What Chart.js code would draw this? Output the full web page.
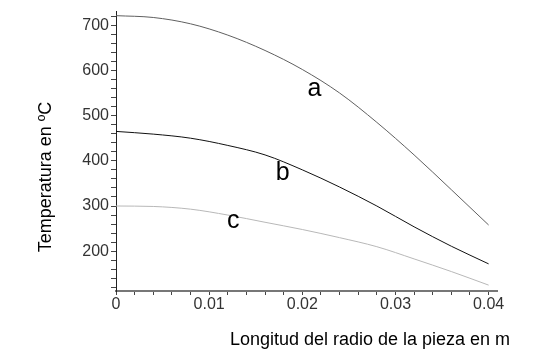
<!DOCTYPE html>
<html lang="es">
<head>
    <meta charset="UTF-8">
    <title>Temperatura</title>
    <script src="https://cdn.jsdelivr.net/npm/chart.js"></script>
    <style>
        html, body { margin: 0; padding: 0; background: #fff; }
        #wrap { width: 534px; height: 352px; }
    </style>
</head>
<body>
    <div id="wrap"><canvas id="tempChart"></canvas></div>
    <script>
        // radio (m) y temperaturas de cada curva
        const radius = [0, 0.004, 0.008, 0.012, 0.016, 0.020, 0.024, 0.028, 0.032, 0.036, 0.040];
        const tempA = [721, 717, 703, 678, 644, 602, 550, 485, 413, 336, 258];
        const tempB = [465, 459, 450, 434, 413, 380, 342, 300, 254, 211, 172];
        const tempC = [300, 299, 293, 280, 264, 248, 230, 210, 183, 155, 125];
        const curveNames = ['a', 'b', 'c'];
        // where each curve name sits, in data units
        const nameX = [0.0213, 0.0179, 0.0126];
        const nameY = [558, 372, 267];
        const yTickLabels = [200, 300, 400, 500, 600, 700];
        const xTickLabels = [0, 0.01, 0.02, 0.03, 0.04];

        const toPoints = ys => radius.map((x, i) => ({ x: x, y: ys[i] }));
        const tickFont = { family: '"Liberation Sans Narrow", "Arial Narrow", Arial, sans-serif', size: 16 };

        const textPlugin = {
            id: 'texts',
            afterDraw(chart) {
                const ctx = chart.ctx;
                const xs = chart.scales.x, ys = chart.scales.y;
                ctx.save();
                ctx.fillStyle = '#000';
                ctx.textAlign = 'center';
                ctx.textBaseline = 'middle';
                ctx.font = '25px "Liberation Sans", Arial, sans-serif';
                curveNames.forEach((n, i) => {
                    ctx.fillText(n, xs.getPixelForValue(nameX[i]), ys.getPixelForValue(nameY[i]));
                });
                ctx.font = '18px "Liberation Sans", Arial, sans-serif';
                ctx.fillText('Longitud del radio de la pieza en m', 370, 340);
                ctx.translate(46, 177);
                ctx.rotate(-Math.PI / 2);
                ctx.fillText('Temperatura en ºC', 0, 0);
                ctx.restore();
            }
        };

        new Chart(document.getElementById('tempChart'), {
            type: 'line',
            data: {
                datasets: [
                    { data: toPoints(tempA), borderColor: '#606060', borderWidth: 1 },
                    { data: toPoints(tempB), borderColor: '#111', borderWidth: 1 },
                    { data: toPoints(tempC), borderColor: '#b8b8b8', borderWidth: 1 }
                ]
            },
            options: {
                responsive: true,
                maintainAspectRatio: false,
                animation: false,
                layout: { padding: { top: 8, right: 37, bottom: 0, left: 0 } },
                elements: {
                    point: { radius: 0 },
                    line: { cubicInterpolationMode: 'monotone' }
                },
                plugins: {
                    legend: { display: false },
                    tooltip: { enabled: false }
                },
                scales: {
                    x: {
                        type: 'linear',
                        min: 0,
                        max: 0.0409,
                        afterFit(scale) { scale.height = 61; },
                        // a tick every 0.002, labels on every fifth one
                        afterBuildTicks(scale) {
                            const t = [];
                            for (let k = 0; k <= 20; k++) t.push({ value: k * 2 / 1000 });
                            scale.ticks = t;
                        },
                        border: { color: '#777', width: 2 },
                        grid: { drawOnChartArea: false, drawTicks: true, tickLength: 4, color: '#444' },
                        ticks: {
                            autoSkip: false,
                            maxRotation: 0,
                            padding: 0,
                            color: '#333',
                            font: tickFont,
                            callback(v) {
                                const hit = xTickLabels.find(t => Math.abs(t - v) < 1e-6);
                                return hit === undefined ? '' : String(hit);
                            }
                        }
                    },
                    y: {
                        min: 112,
                        max: 730,
                        afterFit(scale) { scale.width = 116; },
                        // a tick every 20 degrees, labels every 100
                        afterBuildTicks(scale) {
                            const t = [];
                            for (let k = 6; k <= 36; k++) t.push({ value: k * 20 });
                            scale.ticks = t;
                        },
                        border: { color: '#222', width: 1 },
                        grid: { drawOnChartArea: false, drawTicks: true, tickLength: 5, color: '#444' },
                        ticks: {
                            autoSkip: false,
                            padding: 2,
                            color: '#333',
                            font: tickFont,
                            callback(v) {
                                return yTickLabels.includes(v) ? String(v) : '';
                            }
                        }
                    }
                }
            },
            plugins: [textPlugin]
        });
    </script>
</body>
</html>
